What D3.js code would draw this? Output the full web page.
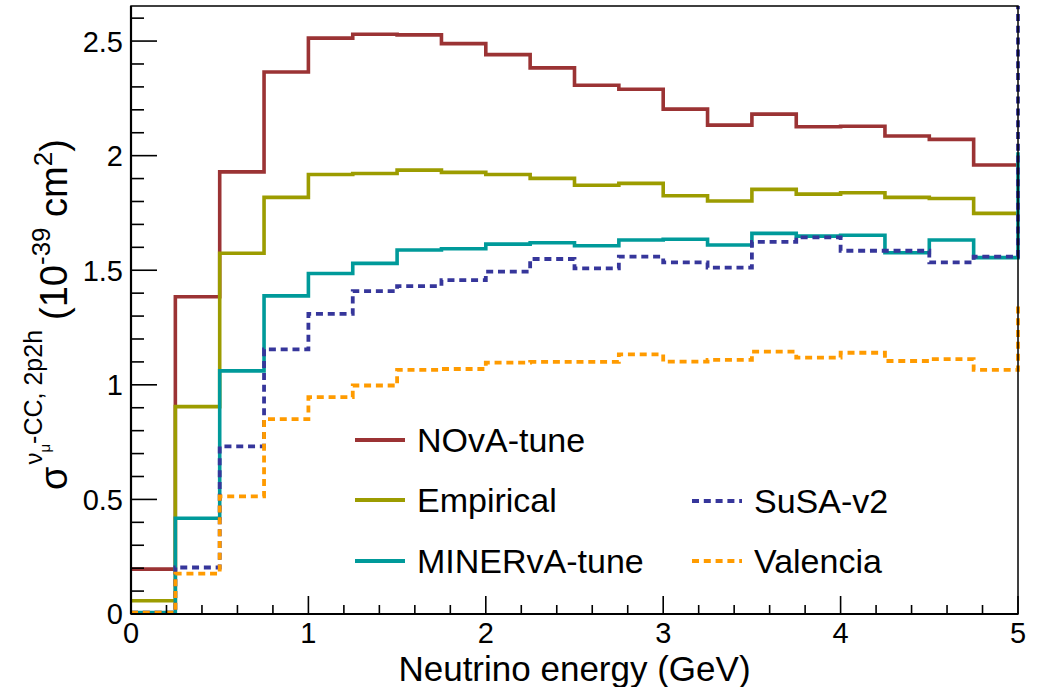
<!DOCTYPE html>
<html>
<head>
<meta charset="utf-8">
<script src="https://cdn.jsdelivr.net/npm/d3@7"></script>
<style>
  html, body { margin: 0; padding: 0; background: #fff; }
  svg { display: block; }
  text { font-family: "Liberation Sans", Arial, Helvetica, sans-serif; fill: #000; }
</style>
</head>
<body>
<svg id="chart" width="1045" height="687"></svg>
<script>
// Lower edges of the 0.25 GeV energy bins
const binLow = [0, 0.25, 0.5, 0.75, 1, 1.25, 1.5, 1.75, 2, 2.25, 2.5, 2.75, 3, 3.25, 3.5, 3.75, 4, 4.25, 4.5, 4.75];
const binWidth = 0.25;

// 2p2h cross sections per bin (1e-39 cm^2)
const novaTune    = [0.196, 1.384, 1.929, 2.365, 2.513, 2.530, 2.527, 2.489, 2.441, 2.383, 2.307, 2.290, 2.203, 2.133, 2.181, 2.126, 2.128, 2.086, 2.071, 1.959];
const empirical   = [0.058, 0.905, 1.574, 1.818, 1.918, 1.922, 1.937, 1.927, 1.918, 1.901, 1.871, 1.879, 1.825, 1.802, 1.853, 1.832, 1.838, 1.818, 1.813, 1.748];
const minervaTune = [0.006, 0.418, 1.061, 1.388, 1.486, 1.530, 1.588, 1.594, 1.614, 1.620, 1.607, 1.632, 1.635, 1.610, 1.661, 1.649, 1.653, 1.576, 1.632, 1.555];
const susaV2      = [0.006, 0.203, 0.731, 1.155, 1.310, 1.409, 1.431, 1.457, 1.494, 1.549, 1.508, 1.559, 1.534, 1.511, 1.624, 1.643, 1.585, 1.585, 1.534, 1.559];
const valencia    = [0.006, 0.176, 0.513, 0.850, 0.946, 0.997, 1.065, 1.069, 1.097, 1.100, 1.100, 1.133, 1.101, 1.109, 1.145, 1.119, 1.140, 1.104, 1.112, 1.065];

// Content of the bin just above 5 GeV (only its rising edge shows at the frame)
const overflow = [1.959, 1.748, 2.015, 2.9, 1.356];

const seriesNames  = ["NOvA-tune", "Empirical", "MINERvA-tune", "SuSA-v2", "Valencia"];
const seriesValues = [novaTune, empirical, minervaTune, susaV2, valencia];
const seriesColors = ["#9b3334", "#9c9c00", "#009a9a", "#36369b", "#ff9b00"];
const seriesDashed = [false, false, false, true, true];

const xTicks = [0, 1, 2, 3, 4, 5];
const yTicks = [0, 0.5, 1, 1.5, 2, 2.5];

const W = 1045, H = 687;
const margin = { left: 131, right: 27, top: 6, bottom: 73 };
const iw = W - margin.left - margin.right;
const ih = H - margin.top - margin.bottom;

const svg = d3.select("#chart");
const g = svg.append("g").attr("transform", `translate(${margin.left},${margin.top})`);

const x = d3.scaleLinear().domain([0, 5]).range([0, iw]);
const y = d3.scaleLinear().domain([0, 2.653]).range([ih, 0]);

svg.append("defs").append("clipPath").attr("id", "plotClip")
  .append("rect").attr("x", -6).attr("y", 0).attr("width", iw + 12).attr("height", ih + 6);

// Histogram outlines (step after each bin's lower edge)
const line = d3.line().x(d => x(d[0])).y(d => y(d[1])).curve(d3.curveStepAfter);
const histG = g.append("g").attr("clip-path", "url(#plotClip)");
seriesValues.forEach((vals, k) => {
  const pts = vals.map((v, i) => [binLow[i], v]);
  pts.push([binLow[binLow.length - 1] + binWidth, overflow[k]]);
  histG.append("path")
    .attr("d", line(pts))
    .attr("fill", "none")
    .attr("stroke", seriesColors[k])
    .attr("stroke-width", seriesDashed[k] ? 3.8 : 3.6)
    .attr("stroke-dasharray", seriesDashed[k] ? "7,4.8" : null)
    .attr("stroke-linejoin", "miter")
    .attr("stroke-linecap", "butt");
});

// Frame
g.append("rect").attr("x", 0).attr("y", 0).attr("width", iw).attr("height", ih)
  .attr("fill", "none").attr("stroke", "#000").attr("stroke-width", 1.5);

// X axis ticks (inward)
const xAxis = g.append("g").attr("transform", `translate(0,${ih})`);
const xMinor = d3.range(0, 26).map(i => i * 0.2);
xAxis.selectAll("line.minor").data(xMinor).join("line")
  .attr("x1", d => x(d)).attr("x2", d => x(d))
  .attr("y1", 0).attr("y2", d => (Math.abs(d - Math.round(d)) < 1e-6 ? -18 : -9))
  .attr("stroke", "#000").attr("stroke-width", 1.6);
xAxis.append("line").attr("x1", 0).attr("x2", iw).attr("y1", 0).attr("y2", 0)
  .attr("stroke", "#000").attr("stroke-width", 2.2);
xAxis.selectAll("text").data(xTicks).join("text")
  .attr("x", d => x(d)).attr("y", 29)
  .attr("text-anchor", "middle").attr("font-size", 29)
  .text(d => d3.format("")(d));

// Y axis ticks (inward)
const yAxis = g.append("g");
const yMinor = d3.range(0, 27).map(i => i * 0.1).filter(v => v <= 2.65);
yAxis.selectAll("line.tick").data(yMinor).join("line")
  .attr("x1", 0).attr("y1", d => y(d)).attr("y2", d => y(d))
  .attr("x2", d => (Math.abs(d * 2 - Math.round(d * 2)) < 1e-6 ? 26 : 13))
  .attr("stroke", "#000").attr("stroke-width", 1.6);
yAxis.append("line").attr("x1", 0).attr("x2", 0).attr("y1", 0).attr("y2", ih)
  .attr("stroke", "#000").attr("stroke-width", 2.2);
yAxis.selectAll("text").data(yTicks).join("text")
  .attr("x", -8).attr("y", d => y(d)).attr("dy", "0.36em")
  .attr("text-anchor", "end").attr("font-size", 29)
  .text(d => d3.format("")(d));

// Axis titles
svg.append("text")
  .attr("x", margin.left + iw / 2).attr("y", 681)
  .attr("text-anchor", "middle").attr("font-size", 35)
  .text("Neutrino energy (GeV)");

const yt = svg.append("text")
  .attr("transform", "translate(67,490) rotate(-90)")
  .attr("font-size", 38);
yt.append("tspan").text("σ");
yt.append("tspan").attr("font-size", 24).attr("dy", -25).attr("dx", 2).text("ν");
yt.append("tspan").attr("font-size", 15).attr("dy", 8).text("μ");
yt.append("tspan").attr("font-size", 25).attr("dy", -8).text("-CC, 2p2h");
yt.append("tspan").attr("dy", 25).attr("dx", 10).text("(10");
yt.append("tspan").attr("font-size", 26).attr("dy", -17).text("-39");
yt.append("tspan").attr("dy", 17).text(" cm");
yt.append("tspan").attr("font-size", 26).attr("dy", -15).text("2");
yt.append("tspan").attr("dy", 15).text(")");

// Legend
const legendRows = [
  { k: 0, lx: 355, ly: 440 },
  { k: 1, lx: 355, ly: 500 },
  { k: 2, lx: 355, ly: 561 },
  { k: 3, lx: 692, ly: 501 },
  { k: 4, lx: 692, ly: 561 }
];
const legend = svg.append("g");
legendRows.forEach(r => {
  legend.append("line")
    .attr("x1", r.lx).attr("x2", r.lx + 50).attr("y1", r.ly).attr("y2", r.ly)
    .attr("stroke", seriesColors[r.k]).attr("stroke-width", 4)
    .attr("stroke-dasharray", seriesDashed[r.k] ? "7,4.8" : null);
  legend.append("text")
    .attr("x", r.lx + 62).attr("y", r.ly).attr("dy", "0.36em")
    .attr("font-size", 34)
    .text(seriesNames[r.k]);
});
</script>
</body>
</html>
